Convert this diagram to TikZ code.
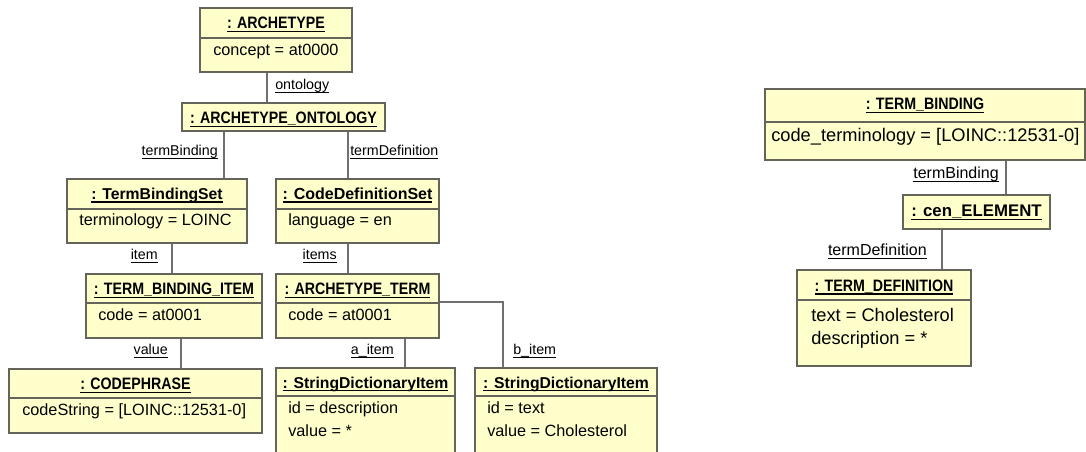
\documentclass[tikz,border=0pt]{standalone}
\usepackage{fontspec}
\setmainfont{Liberation Sans}
\usetikzlibrary{fit}

\definecolor{objfill}{RGB}{255,255,204}
\definecolor{objline}{RGB}{100,100,90}
\definecolor{linkline}{RGB}{112,112,112}

% underline at a fixed depth, so that it runs through underscores and descenders
\newsavebox\ulbox
\newcommand\ulin[1]{\sbox\ulbox{#1}\rlap{\vrule height -0.12em depth 0.2em width \wd\ulbox}\usebox\ulbox}

\tikzset{
  x=0.75pt, y=-0.75pt,
  objbox/.style={draw=objline, fill=objfill, line width=1pt, inner sep=0pt},
  divider/.style={draw=objline, line width=1pt},
  link/.style={draw=linkline, line width=0.8pt},
  % upper-case class names: tall, narrow bold
  headtxt/.style={font=\fontsize{12.4}{14}\selectfont\bfseries\addfontfeature{FakeStretch=0.86}, inner sep=0pt, anchor=base},
  mixhead/.style={headtxt, font=\fontsize{11.8}{13}\selectfont\bfseries},
  bodytxt/.style={font=\fontsize{12.2}{14}\selectfont, inner sep=0pt, anchor=base west},
  rbodytxt/.style={font=\fontsize{13.7}{16}\selectfont, inner sep=0pt, anchor=base west},
  roletxt/.style={font=\fontsize{10.7}{12}\selectfont, inner sep=0pt},
  rroletxt/.style={font=\fontsize{12}{14}\selectfont, inner sep=0pt},
}

\begin{document}
\begin{tikzpicture}
\useasboundingbox (0,0) rectangle (1086,452);
\clip (0,0) rectangle (1086,452);

% ---------- object boxes ----------
\node[objbox, fit={(200,8) (352,72)}] (arch) {};
\draw[divider] (200,38) -- (352,38);
\node[objbox, fit={(182,103) (385,131)}] (onto) {};
\node[objbox, fit={(67,179) (247,243)}] (tbs) {};
\draw[divider] (67,209) -- (247,209);
\node[objbox, fit={(276,179) (439,243)}] (cds) {};
\draw[divider] (276,209) -- (439,209);
\node[objbox, fit={(86,274) (262,338)}] (tbi) {};
\draw[divider] (86,303) -- (262,303);
\node[objbox, fit={(276,274) (439,338)}] (at) {};
\draw[divider] (276,303) -- (439,303);
\node[objbox, fit={(9,369) (262,433)}] (cp) {};
\draw[divider] (9,398) -- (262,398);
\node[objbox, fit={(276,368) (455,470)}] (sdia) {};
\draw[divider] (276,396) -- (455,396);
\node[objbox, fit={(475,368) (657,470)}] (sdib) {};
\draw[divider] (475,396) -- (657,396);

\node[objbox, fit={(765,89) (1085,160)}] (tb) {};
\draw[divider] (765,122) -- (1085,122);
\node[objbox, fit={(903,195) (1050,229)}] (cen) {};
\node[objbox, fit={(797,270) (971,366)}] (td) {};
\draw[divider] (797,300) -- (971,300);

% ---------- headers ----------
\node[headtxt] (arch-h) at (276,29) {\ulin{: ARCHETYPE}};
\node[headtxt] (onto-h) at (283.5,124) {\ulin{: ARCHETYPE\_ONTOLOGY}};
\node[mixhead] (tbs-h) at (157,199.5) {\ulin{: TermBindingSet}};
\node[mixhead, font=\fontsize{12}{13}\selectfont\bfseries] (cds-h) at (357.5,199.5) {\ulin{: CodeDefinitionSet}};
\node[headtxt] (tbi-h) at (174,295) {\ulin{: TERM\_BINDING\_ITEM}};
\node[headtxt] (at-h) at (357.5,295) {\ulin{: ARCHETYPE\_TERM}};
\node[headtxt] (cp-h) at (135.5,390) {\ulin{: CODEPHRASE}};
\node[mixhead] (sdia-h) at (365.5,388) {\ulin{: StringDictionaryItem}};
\node[mixhead] (sdib-h) at (566,388) {\ulin{: StringDictionaryItem}};
\node[headtxt] (tb-h) at (925,110) {\ulin{: TERM\_BINDING}};
\node[headtxt, font=\fontsize{12.6}{14}\selectfont\bfseries] (cen-h) at (976.5,216.5) {\ulin{: cen\_ELEMENT}};
\node[headtxt] (td-h) at (884,291.5) {\ulin{: TERM\_DEFINITION}};

% ---------- attributes ----------
\node[bodytxt] (arch-b) at (213,56) {concept = at0000};
\node[bodytxt] (tbs-b) at (79,226) {terminology = LOINC};
\node[bodytxt] (cds-b) at (288,226) {language = en};
\node[bodytxt] (tbi-b) at (98,320.5) {code = at0001};
\node[bodytxt] (at-b) at (288,320.5) {code = at0001};
\node[bodytxt] (cp-b) at (22,415.5) {codeString = [LOINC::12531-0]};
\node[bodytxt] (sdia-b1) at (288,413) {id = description};
\node[bodytxt] (sdia-b2) at (288,436) {value = *};
\node[bodytxt] (sdib-b1) at (487,413) {id = text};
\node[bodytxt] (sdib-b2) at (487,436) {value = Cholesterol};
\node[rbodytxt] (tb-b) at (771,142) {code\_terminology = [LOINC::12531-0]};
\node[rbodytxt] (td-b1) at (811,322) {text = Cholesterol};
\node[rbodytxt] (td-b2) at (811,345) {description = *};

% ---------- links ----------
\coordinate (x-ont) at (267,0);
\coordinate (x-tb) at (224,0);
\coordinate (x-td) at (348,0);
\coordinate (x-item) at (172,0);
\coordinate (x-val) at (181,0);
\coordinate (x-a) at (405,0);
\coordinate (bjoint) at (503,302);
\coordinate (x-rtb) at (1006,0);
\coordinate (x-rtd) at (942,0);

\draw[link] (arch.south -| x-ont) -- (onto.north -| x-ont);
\draw[link] (onto.south -| x-tb) -- (tbs.north -| x-tb);
\draw[link] (onto.south -| x-td) -- (cds.north -| x-td);
\draw[link] (tbs.south -| x-item) -- (tbi.north -| x-item);
\draw[link] (cds.south -| x-td) -- (at.north -| x-td);
\draw[link] (tbi.south -| x-val) -- (cp.north -| x-val);
\draw[link] (at.south -| x-a) -- (sdia.north -| x-a);
\draw[link] (at.east |- bjoint) -- (bjoint) -- (sdib.north -| bjoint);
\draw[link] (tb.south -| x-rtb) -- (cen.north -| x-rtb);
\draw[link] (cen.south -| x-rtd) -- (td.north -| x-rtd);

% ---------- role names ----------
\node[roletxt, anchor=base west] (l-ont) at (275,90) {\ulin{ontology}};
\node[roletxt, anchor=base east] (l-tb) at (218,156) {\ulin{termBinding}};
\node[roletxt, anchor=base west] (l-td) at (350,156) {\ulin{termDefinition}};
\node[roletxt, anchor=base east] (l-item) at (158,260) {\ulin{item}};
\node[roletxt, anchor=base east] (l-items) at (337,260) {\ulin{items}};
\node[roletxt, anchor=base east] (l-val) at (168,355) {\ulin{value}};
\node[roletxt, anchor=base east] (l-a) at (394,355) {\ulin{a\_item}};
\node[roletxt, anchor=base west] (l-b) at (513,355) {\ulin{b\_item}};
\node[rroletxt, anchor=base east] (l-rtb) at (999,179) {\ulin{termBinding}};
\node[rroletxt, anchor=base east] (l-rtd) at (927,256) {\ulin{termDefinition}};
\end{tikzpicture}
\end{document}
